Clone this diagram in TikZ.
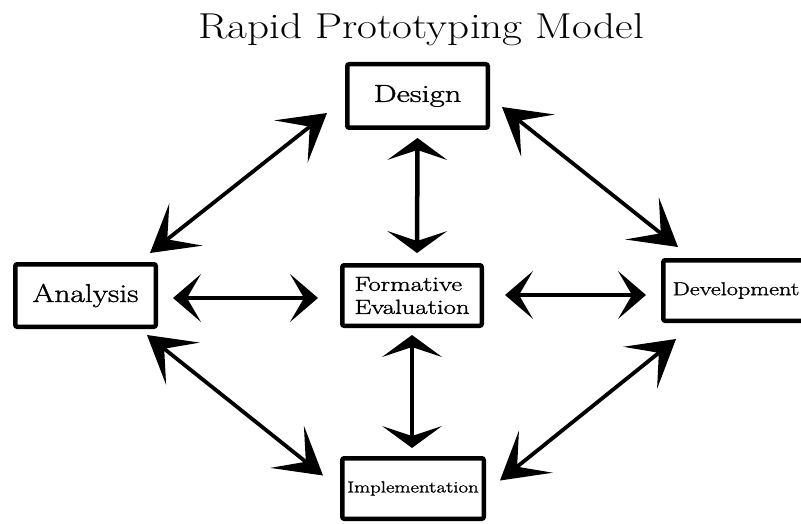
\documentclass[tikz,border=0pt]{standalone}
\usepackage{fontspec}
\usepackage{graphicx}
\newfontfamily\heavy{Latin Modern Roman}[FakeBold=1.2]
\usetikzlibrary{arrows.meta}
\newcommand{\wtxt}[3]{\fontsize{#1}{#1}\selectfont\scalebox{#2}[1]{#3}}
\tikzset{
  box/.style={draw=black, line width=4.5pt, rounded corners=2pt, fill=white, inner sep=0pt, align=left, font=\heavy},
  diagarr/.style={line width=3.8pt, arrows={Stealth[length=46pt,width=54pt,inset=24pt,line width=0pt]-Stealth[length=46pt,width=54pt,inset=24pt,line width=0pt]}},
  horarr/.style={line width=3.8pt, arrows={Stealth[length=28pt,width=48pt,inset=14pt,line width=0pt]-Stealth[length=28pt,width=48pt,inset=14pt,line width=0pt]}},
  verarr/.style={line width=4.5pt, arrows={Stealth[length=22pt,width=60pt,inset=10pt,line width=0pt]-Stealth[length=22pt,width=60pt,inset=10pt,line width=0pt]}}
}
\begin{document}
\begin{tikzpicture}[x=1pt,y=-1pt]
\useasboundingbox (0,0) rectangle (801,524);
\node[anchor=base] (title) at (421,39) {\wtxt{36}{1.2}{Rapid Prototyping Model}};
\node[box, minimum width=140.5pt, minimum height=63.5pt] (design) at (417.5,96) {\wtxt{24.5}{1.33}{Design}};
\node[box, minimum width=140.5pt, minimum height=62.5pt] (analysis) at (85.5,295.5) {\wtxt{25.8}{1.22}{Analysis}};
\node[box, minimum width=139.5pt, minimum height=60.5pt, font=\heavy\fontsize{20.5}{23}\selectfont] (formative) at (412,295.5) {\scalebox{1.3}[1]{Formative}\\\scalebox{1.3}[1]{Evaluation}};
\node[box, minimum width=145.5pt, minimum height=60.5pt, inner xsep=7pt] (development) at (736,290.5) {\wtxt{18.7}{1.3}{Development}};
\node[box, minimum width=141.5pt, minimum height=60.5pt] (implementation) at (413,488.5) {\wtxt{16}{1.3}{Implementation}};
% diagonal connectors
\draw[diagarr] ([shift={(-18,17)}]design.west) -- ([shift={(-8,-9)}]analysis.north east);
\draw[diagarr] ([shift={(12,11)}]design.east) -- ([shift={(17,-11)}]development.north west);
\draw[diagarr] ([shift={(-11,6)}]analysis.south east) -- ([shift={(-17,-13)}]implementation.west);
\draw[diagarr] ([shift={(15,16)}]development.south west) -- ([shift={(14,-8)}]implementation.east);
% vertical connectors
\draw[verarr] ([shift={(0,8)}]design.south) -- ([shift={(5,-10)}]formative.north);
\draw[verarr] ([shift={(0,7)}]formative.south) -- ([shift={(-1,-8)}]implementation.north);
% horizontal connectors
\draw[horarr] ([shift={(15,2.5)}]analysis.east) -- ([shift={(-22,2.5)}]formative.west);
\draw[horarr] ([shift={(21,-0.5)}]formative.east) -- ([shift={(-15,4.5)}]development.west);
\end{tikzpicture}
\end{document}
